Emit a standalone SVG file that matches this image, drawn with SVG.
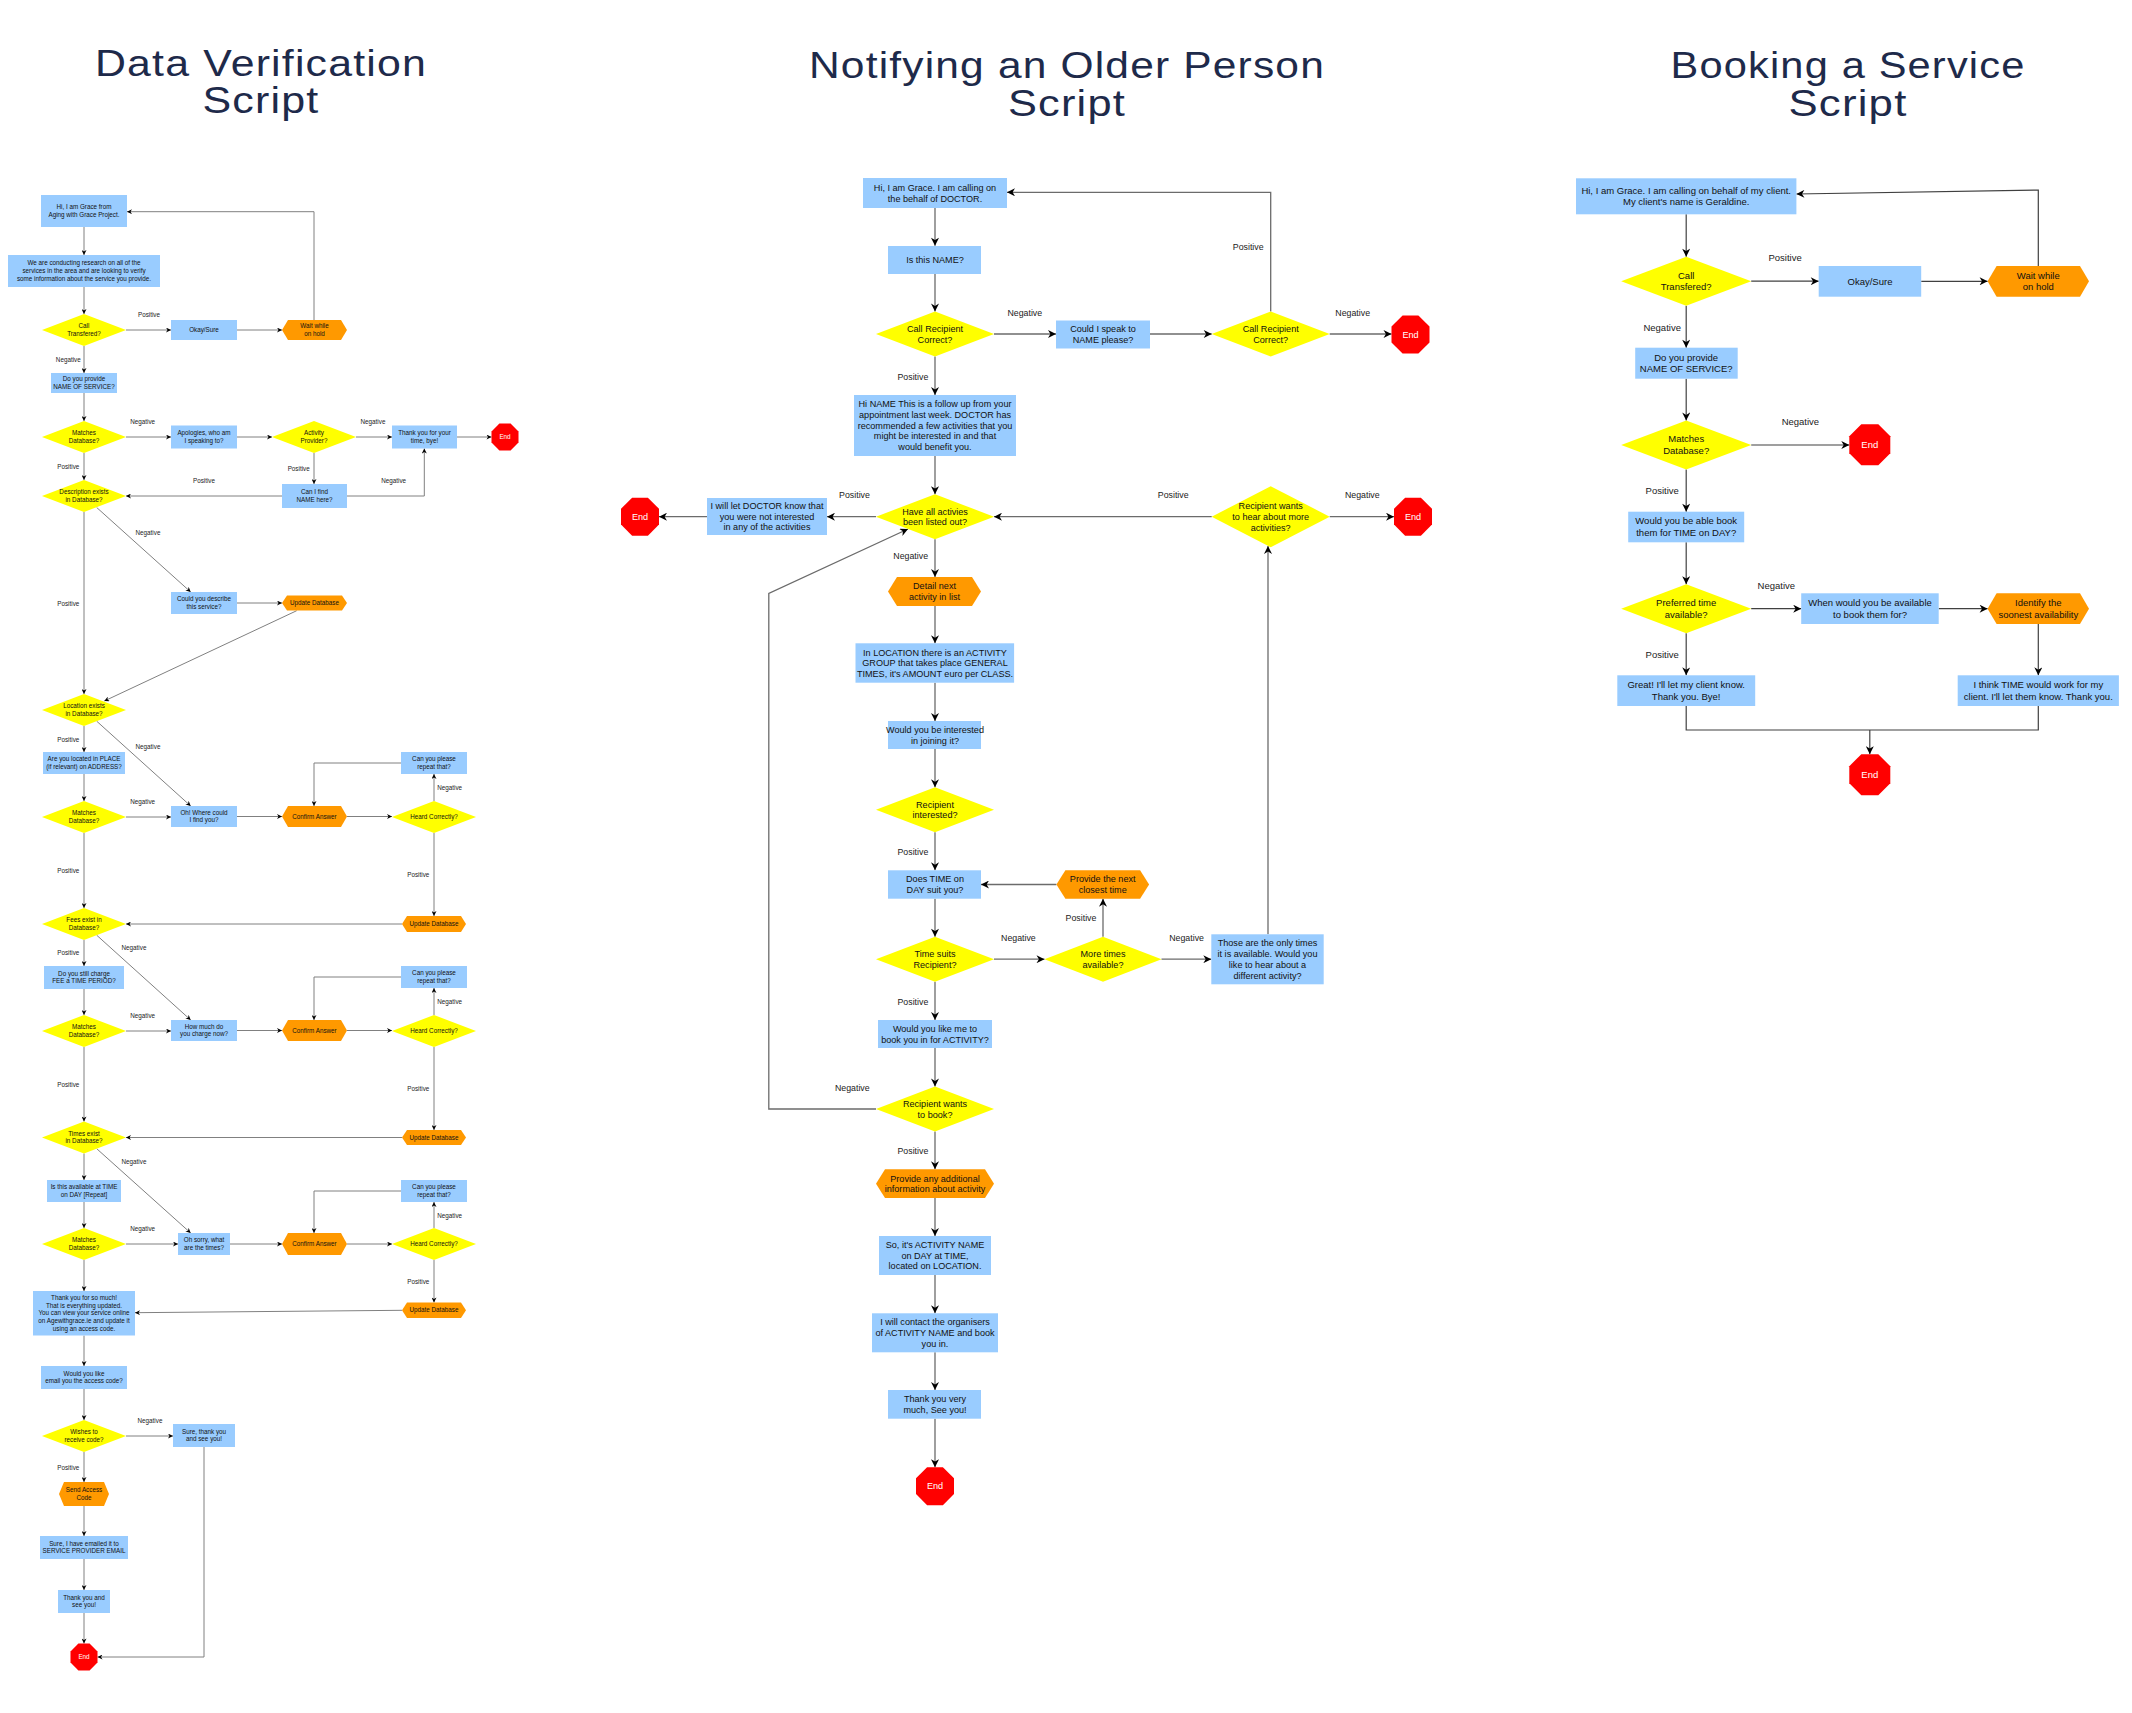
<svg xmlns="http://www.w3.org/2000/svg" width="2132" height="1713" viewBox="0 0 2132 1713">
<defs>
<style>
.bg{fill:#ffffff}
.b{fill:#99ccff}
.y{fill:#ffff00}
.o{fill:#ff9900}
.r{fill:#ff0000}
text{font-family:"Liberation Sans",Arial,sans-serif;text-anchor:middle;fill:#111}
.ttl{font-size:36px;fill:#1e2a4a;letter-spacing:1px}
.t1{font-size:6.3px}
.l1{font-size:6.3px;fill:#222}
.e1{font-size:6.3px;fill:#fff}
.t2{font-size:9.1px}
.l2{font-size:8.8px;fill:#222}
.e2{font-size:9.1px;fill:#fff}
.t3{font-size:9.5px}
.l3{font-size:9.5px;fill:#222}
.e3{font-size:9.5px;fill:#fff}
.c1{fill:none;stroke:#808080;stroke-width:1;marker-end:url(#a1)}
.c2{fill:none;stroke:#6b6b6b;stroke-width:1.3;marker-end:url(#a2)}
.c3{fill:none;stroke:#404040;stroke-width:1.2;marker-end:url(#a3)}
.c3n{fill:none;stroke:#404040;stroke-width:1.2}
</style>
<marker id="a1" viewBox="0 0 10 10" refX="10" refY="5" markerWidth="6" markerHeight="5" markerUnits="userSpaceOnUse" orient="auto"><path d="M0,0 L10,5 L0,10 L3,5 z" fill="#000"/></marker>
<marker id="a2" viewBox="0 0 10 10" refX="10" refY="5" markerWidth="9" markerHeight="8" markerUnits="userSpaceOnUse" orient="auto"><path d="M0,0 L10,5 L0,10 L3,5 z" fill="#000"/></marker>
<marker id="a3" viewBox="0 0 10 10" refX="10" refY="5" markerWidth="9" markerHeight="8" markerUnits="userSpaceOnUse" orient="auto"><path d="M0,0 L10,5 L0,10 L3,5 z" fill="#000"/></marker>
</defs>
<rect class="bg" x="0" y="0" width="2132" height="1713"/>

<g id="titles">
<text class="ttl" x="261" y="76" textLength="332" lengthAdjust="spacingAndGlyphs">Data Verification</text>
<text class="ttl" x="261" y="113" textLength="117" lengthAdjust="spacingAndGlyphs">Script</text>
<text class="ttl" x="1067" y="78" textLength="516" lengthAdjust="spacingAndGlyphs">Notifying an Older Person</text>
<text class="ttl" x="1067" y="116" textLength="118" lengthAdjust="spacingAndGlyphs">Script</text>
<text class="ttl" x="1848" y="78" textLength="355" lengthAdjust="spacingAndGlyphs">Booking a Service</text>
<text class="ttl" x="1848" y="116" textLength="119" lengthAdjust="spacingAndGlyphs">Script</text>
</g>

<g id="connectors">
<!-- left -->
<path class="c1" d="M84,227 V255"/>
<path class="c1" d="M84,287 V314"/>
<path class="c1" d="M126,330 H171"/>
<path class="c1" d="M237,330 H282"/>
<path class="c1" d="M314,320 V211.7 H127"/>
<path class="c1" d="M84,346 V373"/>
<path class="c1" d="M84,393 V421"/>
<path class="c1" d="M126,437 H171"/>
<path class="c1" d="M237,437 H272"/>
<path class="c1" d="M356,437 H392"/>
<path class="c1" d="M457,437 H491.5"/>
<path class="c1" d="M84,453 V480"/>
<path class="c1" d="M314,453 V484"/>
<path class="c1" d="M282,496 H126"/>
<path class="c1" d="M347,496 H424.3 V448.5"/>
<path class="c1" d="M96.7,507.5 L190.7,592"/>
<path class="c1" d="M84,512 V694"/>
<path class="c1" d="M237,603 H282"/>
<path class="c1" d="M296.7,610.7 L104.3,701"/>
<path class="c1" d="M84,726 V752"/>
<path class="c1" d="M96.7,721.2 L190.7,806"/>
<path class="c1" d="M84,774 V801"/>
<path class="c1" d="M126,817 H171"/>
<path class="c1" d="M237,816.5 H282"/>
<path class="c1" d="M347,816.5 H392"/>
<path class="c1" d="M434,801 V774"/>
<path class="c1" d="M401,763 H314 V806"/>
<path class="c1" d="M434,833 V916"/>
<path class="c1" d="M402,924 H126"/>
<path class="c1" d="M84,833 V908"/>
<path class="c1" d="M84,940 V966"/>
<path class="c1" d="M96.7,935.2 L190.7,1020"/>
<path class="c1" d="M84,989 V1015"/>
<path class="c1" d="M126,1031 H171"/>
<path class="c1" d="M237,1030.5 H282"/>
<path class="c1" d="M347,1030.5 H392"/>
<path class="c1" d="M434,1015 V988"/>
<path class="c1" d="M401,977 H314 V1020"/>
<path class="c1" d="M434,1047 V1130"/>
<path class="c1" d="M402,1137.5 H126"/>
<path class="c1" d="M84,1047 V1121.5"/>
<path class="c1" d="M84,1153.5 V1180"/>
<path class="c1" d="M96.7,1148.7 L190.7,1233"/>
<path class="c1" d="M84,1202 V1228"/>
<path class="c1" d="M126,1244 H178"/>
<path class="c1" d="M230,1244 H282"/>
<path class="c1" d="M347,1244 H392"/>
<path class="c1" d="M434,1228 V1202"/>
<path class="c1" d="M401,1191 H314 V1233"/>
<path class="c1" d="M434,1260 V1302.5"/>
<path class="c1" d="M402,1310.3 L135,1312.7"/>
<path class="c1" d="M84,1260 V1291"/>
<path class="c1" d="M84,1335.5 V1366"/>
<path class="c1" d="M84,1389 V1420"/>
<path class="c1" d="M126,1436 H173"/>
<path class="c1" d="M84,1452 V1482"/>
<path class="c1" d="M84,1506 V1536"/>
<path class="c1" d="M84,1559 V1590"/>
<path class="c1" d="M84,1613 V1643.5"/>
<path class="c1" d="M204,1447 V1657 H97.5"/>
<!-- middle -->
<path class="c2" d="M935,208 V245.7"/>
<path class="c2" d="M935,274 V311.5"/>
<path class="c2" d="M994,334 H1056"/>
<path class="c2" d="M1150,334 H1211.7"/>
<path class="c2" d="M1329.7,334 H1391.5"/>
<path class="c2" d="M1270.7,311.5 V192.3 H1007"/>
<path class="c2" d="M935,356.5 V395"/>
<path class="c2" d="M935,456 V494.2"/>
<path class="c2" d="M876,516.7 H827"/>
<path class="c2" d="M707,516.7 H659"/>
<path class="c2" d="M1329.7,516.7 H1394"/>
<path class="c2" d="M1211.7,516.7 H994"/>
<path class="c2" d="M935,539.2 V577"/>
<path class="c2" d="M935,606 V643.3"/>
<path class="c2" d="M935,682.7 V721"/>
<path class="c2" d="M935,749 V787.3"/>
<path class="c2" d="M935,832.3 V870.3"/>
<path class="c2" d="M1056.4,884.5 H981"/>
<path class="c2" d="M935,898.7 V936.7"/>
<path class="c2" d="M994,959.2 H1044.5"/>
<path class="c2" d="M1161.5,959.2 H1211.3"/>
<path class="c2" d="M1103,936.7 V898.7"/>
<path class="c2" d="M1268,934.3 V546"/>
<path class="c2" d="M935,981.7 V1020"/>
<path class="c2" d="M935,1048 V1086.5"/>
<path class="c2" d="M876,1109 H768.8 V593.3 L908,529"/>
<path class="c2" d="M935,1131.5 V1169.3"/>
<path class="c2" d="M935,1198 V1236"/>
<path class="c2" d="M935,1275 V1313.3"/>
<path class="c2" d="M935,1352.3 V1390"/>
<path class="c2" d="M935,1418.7 V1467.2"/>
<!-- right -->
<path class="c3" d="M1686.2,214.3 V256.7"/>
<path class="c3" d="M1751.2,281.2 H1818.7"/>
<path class="c3" d="M1921.2,281.3 H1987.6"/>
<path class="c3" d="M2038.3,266 V190 L1796.4,194"/>
<path class="c3" d="M1686.2,305.7 V347.7"/>
<path class="c3" d="M1686.2,378.7 V420.5"/>
<path class="c3" d="M1751.2,445 H1849.3"/>
<path class="c3" d="M1686.2,469.5 V511.7"/>
<path class="c3" d="M1686.2,542.3 V584.2"/>
<path class="c3" d="M1751.2,608.7 H1801.2"/>
<path class="c3" d="M1938.7,608.7 H1987.6"/>
<path class="c3" d="M2038.3,624 V675.3"/>
<path class="c3" d="M1686.2,633.2 V675.3"/>
<path class="c3n" d="M1686.2,706 V730 H2038.3 V706"/>
<path class="c3" d="M1869.8,730 V754.2"/>
</g>

<g id="labels">
<text class="l1" x="149" y="317">Positive</text>
<text class="l1" x="68.3" y="362.2">Negative</text>
<text class="l1" x="142.7" y="423.5">Negative</text>
<text class="l1" x="373" y="423.5">Negative</text>
<text class="l1" x="68.3" y="468.9">Positive</text>
<text class="l1" x="298.7" y="470.9">Positive</text>
<text class="l1" x="204" y="482.9">Positive</text>
<text class="l1" x="393.7" y="482.9">Negative</text>
<text class="l1" x="148" y="534.9">Negative</text>
<text class="l1" x="68.3" y="605.5">Positive</text>
<text class="l1" x="68.3" y="741.5">Positive</text>
<text class="l1" x="148" y="748.5">Negative</text>
<text class="l1" x="142.7" y="803.5">Negative</text>
<text class="l1" x="449.7" y="790.2">Negative</text>
<text class="l1" x="68.3" y="872.5">Positive</text>
<text class="l1" x="418.3" y="876.9">Positive</text>
<text class="l1" x="134" y="949.9">Negative</text>
<text class="l1" x="68.3" y="954.9">Positive</text>
<text class="l1" x="142.7" y="1017.5">Negative</text>
<text class="l1" x="449.7" y="1003.9">Negative</text>
<text class="l1" x="68.3" y="1086.5">Positive</text>
<text class="l1" x="418.3" y="1090.5">Positive</text>
<text class="l1" x="134" y="1163.5">Negative</text>
<text class="l1" x="142.7" y="1231.2">Negative</text>
<text class="l1" x="449.7" y="1217.9">Negative</text>
<text class="l1" x="418.3" y="1283.9">Positive</text>
<text class="l1" x="150" y="1422.9">Negative</text>
<text class="l1" x="68.3" y="1469.5">Positive</text>

<text class="l2" x="1024.8" y="316.3">Negative</text>
<text class="l2" x="1352.7" y="316.3">Negative</text>
<text class="l2" x="1248.2" y="250.3">Positive</text>
<text class="l2" x="912.9" y="379.7">Positive</text>
<text class="l2" x="854.5" y="498">Positive</text>
<text class="l2" x="1173.2" y="498">Positive</text>
<text class="l2" x="1362.3" y="498">Negative</text>
<text class="l2" x="910.7" y="559">Negative</text>
<text class="l2" x="912.9" y="854.7">Positive</text>
<text class="l2" x="1081" y="921.3">Positive</text>
<text class="l2" x="1018.4" y="941">Negative</text>
<text class="l2" x="1186.6" y="941">Negative</text>
<text class="l2" x="912.9" y="1004.7">Positive</text>
<text class="l2" x="852.3" y="1090.7">Negative</text>
<text class="l2" x="912.9" y="1154">Positive</text>

<text class="l3" x="1785.1" y="261">Positive</text>
<text class="l3" x="1662.2" y="330.6">Negative</text>
<text class="l3" x="1800.4" y="425">Negative</text>
<text class="l3" x="1662.2" y="494.3">Positive</text>
<text class="l3" x="1776.3" y="588.6">Negative</text>
<text class="l3" x="1662.2" y="658">Positive</text>
</g>

<!-- LEFT nodes -->
<g id="dv-hi"><rect class="b" x="41" y="195" width="86" height="32"/><text class="t1"><tspan x="84" y="209.25">Hi, I am Grace from</tspan><tspan x="84" y="216.95">Aging with Grace Project.</tspan></text></g>
<g id="dv-research"><rect class="b" x="8" y="255" width="152" height="32"/><text class="t1"><tspan x="84" y="265.4">We are conducting research on all of the</tspan><tspan x="84" y="273.1">services in the area and are looking to verify</tspan><tspan x="84" y="280.8">some information about the service you provide.</tspan></text></g>
<g id="dv-transfer"><polygon class="y" points="42,330 84,314 126,330 84,346"/><text class="t1"><tspan x="84" y="328.25">Call</tspan><tspan x="84" y="335.95">Transfered?</tspan></text></g>
<g id="dv-okay"><rect class="b" x="171" y="320" width="66" height="20"/><text class="t1" x="204" y="332.1">Okay/Sure</text></g>
<g id="dv-wait"><polygon class="o" points="288,320 341,320 347,330 341,340 288,340 282,330"/><text class="t1"><tspan x="314.5" y="328.25">Wait while</tspan><tspan x="314.5" y="335.95">on hold</tspan></text></g>
<g id="dv-provide"><rect class="b" x="51" y="373" width="66" height="20"/><text class="t1"><tspan x="84" y="381.25">Do you provide</tspan><tspan x="84" y="388.95">NAME OF SERVICE?</tspan></text></g>
<g id="dv-match1"><polygon class="y" points="42,437 84,421 126,437 84,453"/><text class="t1"><tspan x="84" y="435.25">Matches</tspan><tspan x="84" y="442.95">Database?</tspan></text></g>
<g id="dv-apologies"><rect class="b" x="171" y="425.5" width="66" height="23"/><text class="t1"><tspan x="204" y="435.25">Apologies, who am</tspan><tspan x="204" y="442.95">I speaking to?</tspan></text></g>
<g id="dv-activity"><polygon class="y" points="272,437 314,421 356,437 314,453"/><text class="t1"><tspan x="314" y="435.25">Activity</tspan><tspan x="314" y="442.95">Provider?</tspan></text></g>
<g id="dv-thanks1"><rect class="b" x="392" y="425.5" width="65" height="23"/><text class="t1"><tspan x="424.5" y="435.25">Thank you for your</tspan><tspan x="424.5" y="442.95">time, bye!</tspan></text></g>
<g id="dv-end1"><polygon class="r" points="499.4,423.5 510.6,423.5 518.5,431.4 518.5,442.6 510.6,450.5 499.4,450.5 491.5,442.6 491.5,431.4"/><text class="e1" x="505" y="439.2">End</text></g>
<g id="dv-desc"><polygon class="y" points="42,496 84,480 126,496 84,512"/><text class="t1"><tspan x="84" y="494.25">Description exists</tspan><tspan x="84" y="501.95">in Database?</tspan></text></g>
<g id="dv-find"><rect class="b" x="282" y="484" width="65" height="24"/><text class="t1"><tspan x="314.5" y="494.25">Can I find</tspan><tspan x="314.5" y="501.95">NAME here?</tspan></text></g>
<g id="dv-describe"><rect class="b" x="171" y="592" width="66" height="22"/><text class="t1"><tspan x="204" y="601.25">Could you describe</tspan><tspan x="204" y="608.95">this service?</tspan></text></g>
<g id="dv-update1"><polygon class="o" points="287,595.5 342,595.5 347,603 342,610.5 287,610.5 282,603"/><text class="t1" x="314.5" y="605.1">Update Database</text></g>
<g id="dv-location"><polygon class="y" points="42,710 84,694 126,710 84,726"/><text class="t1"><tspan x="84" y="708.25">Location exists</tspan><tspan x="84" y="715.95">in Database?</tspan></text></g>
<g id="dv-located"><rect class="b" x="43" y="752" width="82" height="22"/><text class="t1"><tspan x="84" y="761.25">Are you located in PLACE</tspan><tspan x="84" y="768.95">(if relevant) on ADDRESS?</tspan></text></g>
<g id="dv-match2"><polygon class="y" points="42,817 84,801 126,817 84,833"/><text class="t1"><tspan x="84" y="815.25">Matches</tspan><tspan x="84" y="822.95">Database?</tspan></text></g>
<g id="dv-where"><rect class="b" x="171" y="806" width="66" height="21"/><text class="t1"><tspan x="204" y="814.75">Oh! Where could</tspan><tspan x="204" y="822.45">I find you?</tspan></text></g>
<g id="dv-confirm1"><polygon class="o" points="288,806 341,806 347,816.5 341,827 288,827 282,816.5"/><text class="t1" x="314.5" y="818.6">Confirm Answer</text></g>
<g id="dv-heard1"><polygon class="y" points="392,817 434,801 476,817 434,833"/><text class="t1" x="434" y="819.1">Heard Correctly?</text></g>
<g id="dv-repeat1"><rect class="b" x="401" y="752" width="66" height="22"/><text class="t1"><tspan x="434" y="761.25">Can you please</tspan><tspan x="434" y="768.95">repeat that?</tspan></text></g>
<g id="dv-update2"><polygon class="o" points="407,916 461,916 466,924 461,932 407,932 402,924"/><text class="t1" x="434" y="926.1">Update Database</text></g>
<g id="dv-fees"><polygon class="y" points="42,924 84,908 126,924 84,940"/><text class="t1"><tspan x="84" y="922.25">Fees exist in</tspan><tspan x="84" y="929.95">Database?</tspan></text></g>
<g id="dv-charge"><rect class="b" x="44" y="966" width="80" height="23"/><text class="t1"><tspan x="84" y="975.75">Do you still charge</tspan><tspan x="84" y="983.45">FEE a TIME PERIOD?</tspan></text></g>
<g id="dv-match3"><polygon class="y" points="42,1031 84,1015 126,1031 84,1047"/><text class="t1"><tspan x="84" y="1029.25">Matches</tspan><tspan x="84" y="1036.95">Database?</tspan></text></g>
<g id="dv-howmuch"><rect class="b" x="171" y="1020" width="66" height="21"/><text class="t1"><tspan x="204" y="1028.75">How much do</tspan><tspan x="204" y="1036.45">you charge now?</tspan></text></g>
<g id="dv-confirm2"><polygon class="o" points="288,1020 341,1020 347,1030.5 341,1041 288,1041 282,1030.5"/><text class="t1" x="314.5" y="1032.6">Confirm Answer</text></g>
<g id="dv-heard2"><polygon class="y" points="392,1031 434,1015 476,1031 434,1047"/><text class="t1" x="434" y="1033.1">Heard Correctly?</text></g>
<g id="dv-repeat2"><rect class="b" x="401" y="966" width="66" height="22"/><text class="t1"><tspan x="434" y="975.25">Can you please</tspan><tspan x="434" y="982.95">repeat that?</tspan></text></g>
<g id="dv-update3"><polygon class="o" points="407,1130 461,1130 466,1137.5 461,1145 407,1145 402,1137.5"/><text class="t1" x="434" y="1139.6">Update Database</text></g>
<g id="dv-times"><polygon class="y" points="42,1137.5 84,1121.5 126,1137.5 84,1153.5"/><text class="t1"><tspan x="84" y="1135.75">Times exist</tspan><tspan x="84" y="1143.45">in Database?</tspan></text></g>
<g id="dv-available"><rect class="b" x="47" y="1180" width="74" height="22"/><text class="t1"><tspan x="84" y="1189.25">Is this available at TIME</tspan><tspan x="84" y="1196.95">on DAY [Repeat]</tspan></text></g>
<g id="dv-match4"><polygon class="y" points="42,1244 84,1228 126,1244 84,1260"/><text class="t1"><tspan x="84" y="1242.25">Matches</tspan><tspan x="84" y="1249.95">Database?</tspan></text></g>
<g id="dv-sorry"><rect class="b" x="178" y="1233" width="52" height="22"/><text class="t1"><tspan x="204" y="1242.25">Oh sorry, what</tspan><tspan x="204" y="1249.95">are the times?</tspan></text></g>
<g id="dv-confirm3"><polygon class="o" points="288,1233 341,1233 347,1244 341,1255 288,1255 282,1244"/><text class="t1" x="314.5" y="1246.1">Confirm Answer</text></g>
<g id="dv-heard3"><polygon class="y" points="392,1244 434,1228 476,1244 434,1260"/><text class="t1" x="434" y="1246.1">Heard Correctly?</text></g>
<g id="dv-repeat3"><rect class="b" x="401" y="1180" width="66" height="22"/><text class="t1"><tspan x="434" y="1189.25">Can you please</tspan><tspan x="434" y="1196.95">repeat that?</tspan></text></g>
<g id="dv-update4"><polygon class="o" points="407,1302.5 461,1302.5 466,1310.25 461,1318 407,1318 402,1310.25"/><text class="t1" x="434" y="1312.35">Update Database</text></g>
<g id="dv-thanks2"><rect class="b" x="33" y="1291" width="102" height="44.5"/><text class="t1"><tspan x="84" y="1299.95">Thank you for so much!</tspan><tspan x="84" y="1307.65">That is everything updated.</tspan><tspan x="84" y="1315.35">You can view your service online</tspan><tspan x="84" y="1323.05">on Agewithgrace.ie and update it</tspan><tspan x="84" y="1330.75">using an access code.</tspan></text></g>
<g id="dv-email"><rect class="b" x="41" y="1366" width="86" height="23"/><text class="t1"><tspan x="84" y="1375.75">Would you like</tspan><tspan x="84" y="1383.45">email you the access code?</tspan></text></g>
<g id="dv-wishes"><polygon class="y" points="42,1436 84,1420 126,1436 84,1452"/><text class="t1"><tspan x="84" y="1434.25">Wishes to</tspan><tspan x="84" y="1441.95">receive code?</tspan></text></g>
<g id="dv-surethanks"><rect class="b" x="173" y="1424" width="62" height="23"/><text class="t1"><tspan x="204" y="1433.75">Sure, thank you</tspan><tspan x="204" y="1441.45">and see you!</tspan></text></g>
<g id="dv-send"><polygon class="o" points="64,1482 104,1482 109,1494 104,1506 64,1506 59,1494"/><text class="t1"><tspan x="84" y="1492.25">Send Access</tspan><tspan x="84" y="1499.95">Code</tspan></text></g>
<g id="dv-emailed"><rect class="b" x="40" y="1536" width="88" height="23"/><text class="t1"><tspan x="84" y="1545.75">Sure, I have emailed it to</tspan><tspan x="84" y="1553.45">SERVICE PROVIDER EMAIL</tspan></text></g>
<g id="dv-seeyou"><rect class="b" x="58" y="1590" width="52" height="23"/><text class="t1"><tspan x="84" y="1599.75">Thank you and</tspan><tspan x="84" y="1607.45">see you!</tspan></text></g>
<g id="dv-end2"><polygon class="r" points="78.4,1643.5 89.6,1643.5 97.5,1651.4 97.5,1662.6 89.6,1670.5 78.4,1670.5 70.5,1662.6 70.5,1651.4"/><text class="e1" x="84" y="1659.2">End</text></g>

<!-- MIDDLE nodes -->
<g id="np-hi"><rect class="b" x="863" y="178" width="144" height="30"/><text class="t2"><tspan x="935" y="190.85">Hi, I am Grace. I am calling on</tspan><tspan x="935" y="201.55">the behalf of DOCTOR.</tspan></text></g>
<g id="np-isname"><rect class="b" x="888" y="246" width="93" height="28"/><text class="t2" x="935" y="263.2">Is this NAME?</text></g>
<g id="np-correct1"><polygon class="y" points="876,334 935,311.5 994,334 935,356.5"/><text class="t2"><tspan x="935" y="331.85">Call Recipient</tspan><tspan x="935" y="342.55">Correct?</tspan></text></g>
<g id="np-speak"><rect class="b" x="1056" y="320.5" width="94" height="28"/><text class="t2"><tspan x="1103" y="332.35">Could I speak to</tspan><tspan x="1103" y="343.05">NAME please?</tspan></text></g>
<g id="np-correct2"><polygon class="y" points="1211.7,334 1270.7,311.5 1329.7,334 1270.7,356.5"/><text class="t2"><tspan x="1270.7" y="331.85">Call Recipient</tspan><tspan x="1270.7" y="342.55">Correct?</tspan></text></g>
<g id="np-end1"><polygon class="r" points="1402.6,315.5 1418.4,315.5 1429.5,326.6 1429.5,342.4 1418.4,353.5 1402.6,353.5 1391.5,342.4 1391.5,326.6"/><text class="e2" x="1410.5" y="337.7">End</text></g>
<g id="np-followup"><rect class="b" x="854" y="395" width="162" height="61"/><text class="t2"><tspan x="935" y="407.3">Hi NAME This is a follow up from your</tspan><tspan x="935" y="418">appointment last week. DOCTOR has</tspan><tspan x="935" y="428.7">recommended a few activities that you</tspan><tspan x="935" y="439.4">might be interested in and that</tspan><tspan x="935" y="450.1">would benefit you.</tspan></text></g>
<g id="np-listed"><polygon class="y" points="876,516.7 935,494.2 994,516.7 935,539.2"/><text class="t2"><tspan x="935" y="514.55">Have all activies</tspan><tspan x="935" y="525.25">been listed out?</tspan></text></g>
<g id="np-notinterested"><rect class="b" x="707" y="498" width="120" height="37"/><text class="t2"><tspan x="767" y="509">I will let DOCTOR know that</tspan><tspan x="767" y="519.7">you were not interested</tspan><tspan x="767" y="530.4">in any of the activities</tspan></text></g>
<g id="np-end2"><polygon class="r" points="632.1,497.7 647.9,497.7 659,508.8 659,524.6 647.9,535.7 632.1,535.7 621,524.6 621,508.8"/><text class="e2" x="640" y="519.9">End</text></g>
<g id="np-more"><polygon class="y" points="1211.7,516.7 1270.7,486.2 1329.7,516.7 1270.7,547.2"/><text class="t2"><tspan x="1270.7" y="509.2">Recipient wants</tspan><tspan x="1270.7" y="519.9">to hear about more</tspan><tspan x="1270.7" y="530.6">activities?</tspan></text></g>
<g id="np-end3"><polygon class="r" points="1405.1,497.7 1420.9,497.7 1432,508.8 1432,524.6 1420.9,535.7 1405.1,535.7 1394,524.6 1394,508.8"/><text class="e2" x="1413" y="519.9">End</text></g>
<g id="np-detail"><polygon class="o" points="897,577 972,577 981,591.5 972,606 897,606 888,591.5"/><text class="t2"><tspan x="934.5" y="589.35">Detail next</tspan><tspan x="934.5" y="600.05">activity in list</tspan></text></g>
<g id="np-location"><rect class="b" x="855.5" y="643.3" width="158.6" height="39.4"/><text class="t2"><tspan x="935" y="655.5">In LOCATION there is an ACTIVITY</tspan><tspan x="935" y="666.2">GROUP that takes place GENERAL</tspan><tspan x="935" y="676.9">TIMES, it's AMOUNT euro per CLASS.</tspan></text></g>
<g id="np-joining"><rect class="b" x="888" y="721" width="93" height="28"/><text class="t2"><tspan x="935" y="732.85">Would you be interested</tspan><tspan x="935" y="743.55">in joining it?</tspan></text></g>
<g id="np-interested"><polygon class="y" points="876,809.8 935,787.3 994,809.8 935,832.3"/><text class="t2"><tspan x="935" y="807.65">Recipient</tspan><tspan x="935" y="818.35">interested?</tspan></text></g>
<g id="np-suit"><rect class="b" x="888" y="870.3" width="93" height="28.4"/><text class="t2"><tspan x="935" y="882.35">Does TIME on</tspan><tspan x="935" y="893.05">DAY suit you?</tspan></text></g>
<g id="np-nexttime"><polygon class="o" points="1065.4,870.3 1140.1,870.3 1149.1,884.5 1140.1,898.7 1065.4,898.7 1056.4,884.5"/><text class="t2"><tspan x="1102.7" y="882.35">Provide the next</tspan><tspan x="1102.7" y="893.05">closest time</tspan></text></g>
<g id="np-timesuits"><polygon class="y" points="876,959.2 935,936.7 994,959.2 935,981.7"/><text class="t2"><tspan x="935" y="957.05">Time suits</tspan><tspan x="935" y="967.75">Recipient?</tspan></text></g>
<g id="np-moretimes"><polygon class="y" points="1044.5,959.2 1103,936.7 1161.5,959.2 1103,981.7"/><text class="t2"><tspan x="1103" y="957.05">More times</tspan><tspan x="1103" y="967.75">available?</tspan></text></g>
<g id="np-onlytimes"><rect class="b" x="1211.3" y="934.3" width="112.4" height="50"/><text class="t2"><tspan x="1267.5" y="946.45">Those are the only times</tspan><tspan x="1267.5" y="957.15">it is available. Would you</tspan><tspan x="1267.5" y="967.85">like to hear about a</tspan><tspan x="1267.5" y="978.55">different activity?</tspan></text></g>
<g id="np-bookq"><rect class="b" x="878" y="1020" width="114" height="28"/><text class="t2"><tspan x="935" y="1031.85">Would you like me to</tspan><tspan x="935" y="1042.55">book you in for ACTIVITY?</tspan></text></g>
<g id="np-wantsbook"><polygon class="y" points="876,1109 935,1086.5 994,1109 935,1131.5"/><text class="t2"><tspan x="935" y="1106.85">Recipient wants</tspan><tspan x="935" y="1117.55">to book?</tspan></text></g>
<g id="np-additional"><polygon class="o" points="885,1169.3 985,1169.3 994,1183.7 985,1198 885,1198 876,1183.7"/><text class="t2"><tspan x="935" y="1181.55">Provide any additional</tspan><tspan x="935" y="1192.25">information about activity</tspan></text></g>
<g id="np-summary"><rect class="b" x="879" y="1236" width="112" height="39"/><text class="t2"><tspan x="935" y="1248">So, it's ACTIVITY NAME</tspan><tspan x="935" y="1258.7">on DAY at TIME,</tspan><tspan x="935" y="1269.4">located on LOCATION.</tspan></text></g>
<g id="np-contact"><rect class="b" x="872" y="1313.3" width="126" height="39"/><text class="t2"><tspan x="935" y="1325.3">I will contact the organisers</tspan><tspan x="935" y="1336">of ACTIVITY NAME and book</tspan><tspan x="935" y="1346.7">you in.</tspan></text></g>
<g id="np-thanks"><rect class="b" x="888" y="1390" width="93" height="28.7"/><text class="t2"><tspan x="935" y="1402.15">Thank you very</tspan><tspan x="935" y="1412.85">much, See you!</tspan></text></g>
<g id="np-end4"><polygon class="r" points="927.1,1467.2 942.9,1467.2 954,1478.3 954,1494.1 942.9,1505.2 927.1,1505.2 916,1494.1 916,1478.3"/><text class="e2" x="935" y="1489.4">End</text></g>

<!-- RIGHT nodes -->
<g id="bs-hi"><rect class="b" x="1576" y="178.3" width="220.4" height="36"/><text class="t3"><tspan x="1686.2" y="193.75">Hi, I am Grace. I am calling on behalf of my client.</tspan><tspan x="1686.2" y="205.45">My client's name is Geraldine.</tspan></text></g>
<g id="bs-transfer"><polygon class="y" points="1621.2,281.2 1686.2,256.7 1751.2,281.2 1686.2,305.7"/><text class="t3"><tspan x="1686.2" y="278.65">Call</tspan><tspan x="1686.2" y="290.35">Transfered?</tspan></text></g>
<g id="bs-okay"><rect class="b" x="1818.7" y="266" width="102.5" height="30.7"/><text class="t3" x="1870" y="284.6">Okay/Sure</text></g>
<g id="bs-wait"><polygon class="o" points="1996.6,266 2080,266 2089,281.3 2080,296.7 1996.6,296.7 1987.6,281.3"/><text class="t3"><tspan x="2038.3" y="278.75">Wait while</tspan><tspan x="2038.3" y="290.45">on hold</tspan></text></g>
<g id="bs-provide"><rect class="b" x="1635.2" y="347.7" width="102.5" height="31"/><text class="t3"><tspan x="1686.2" y="360.65">Do you provide</tspan><tspan x="1686.2" y="372.35">NAME OF SERVICE?</tspan></text></g>
<g id="bs-match"><polygon class="y" points="1621.2,445 1686.2,420.5 1751.2,445 1686.2,469.5"/><text class="t3"><tspan x="1686.2" y="442.45">Matches</tspan><tspan x="1686.2" y="454.15">Database?</tspan></text></g>
<g id="bs-end1"><polygon class="r" points="1861.3,424.3 1878.3,424.3 1890.3,436.3 1890.3,453.3 1878.3,465.3 1861.3,465.3 1849.3,453.3 1849.3,436.3"/><text class="e3" x="1869.8" y="448.2">End</text></g>
<g id="bs-book"><rect class="b" x="1628.2" y="511.7" width="116" height="30.6"/><text class="t3"><tspan x="1686.2" y="524.45">Would you be able book</tspan><tspan x="1686.2" y="536.15">them for TIME on DAY?</tspan></text></g>
<g id="bs-preferred"><polygon class="y" points="1621.2,608.7 1686.2,584.2 1751.2,608.7 1686.2,633.2"/><text class="t3"><tspan x="1686.2" y="606.15">Preferred time</tspan><tspan x="1686.2" y="617.85">available?</tspan></text></g>
<g id="bs-when"><rect class="b" x="1801.2" y="593.3" width="137.5" height="30.7"/><text class="t3"><tspan x="1870" y="606.15">When would you be available</tspan><tspan x="1870" y="617.85">to book them for?</tspan></text></g>
<g id="bs-identify"><polygon class="o" points="1996.6,593.3 2080,593.3 2089,608.7 2080,624 1996.6,624 1987.6,608.7"/><text class="t3"><tspan x="2038.3" y="606.15">Identify the</tspan><tspan x="2038.3" y="617.85">soonest availability</tspan></text></g>
<g id="bs-great"><rect class="b" x="1617.3" y="675.3" width="137.9" height="30.7"/><text class="t3"><tspan x="1686.2" y="688.15">Great! I'll let my client know.</tspan><tspan x="1686.2" y="699.85">Thank you. Bye!</tspan></text></g>
<g id="bs-think"><rect class="b" x="1957.7" y="675.3" width="161.2" height="30.7"/><text class="t3"><tspan x="2038.3" y="688.15">I think TIME would work for my</tspan><tspan x="2038.3" y="699.85">client. I'll let them know. Thank you.</tspan></text></g>
<g id="bs-end2"><polygon class="r" points="1861.3,754.2 1878.3,754.2 1890.3,766.2 1890.3,783.2 1878.3,795.2 1861.3,795.2 1849.3,783.2 1849.3,766.2"/><text class="e3" x="1869.8" y="778.1">End</text></g>
</svg>
